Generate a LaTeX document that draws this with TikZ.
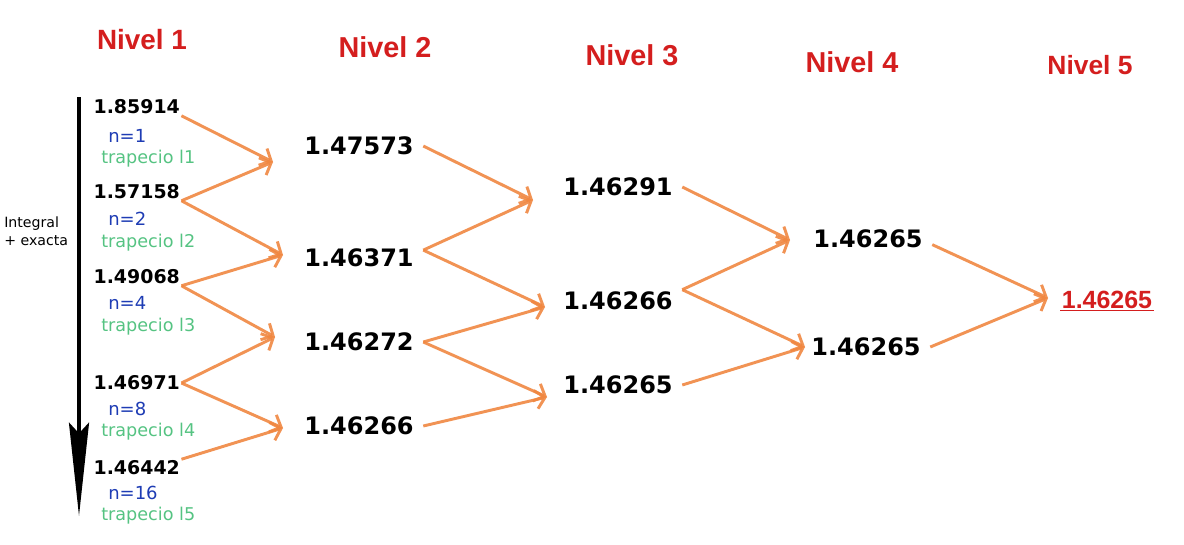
\documentclass[tikz,border=0pt]{standalone}
\usepackage{fontspec}
\setmainfont{DejaVu Sans}
\newfontfamily\arialfont{Liberation Sans}
\usetikzlibrary{arrows.meta}
\definecolor{nivelred}{RGB}{212,30,30}
\definecolor{nblue}{RGB}{30,60,180}
\definecolor{trapgreen}{RGB}{85,195,130}
\definecolor{flechaorange}{RGB}{240,135,65}
\tikzstyle{nivel} = [font=\arialfont\fontsize{21.6}{24}\selectfont\bfseries, text=nivelred]
\tikzstyle{val1} = [anchor=west, inner sep=1pt, font=\fontsize{14.2}{16}\selectfont\bfseries]
\tikzstyle{val} = [inner sep=7pt, font=\fontsize{18}{20}\selectfont\bfseries]
\tikzstyle{nlab} = [anchor=west, inner sep=0pt, font=\fontsize{13.5}{16}\selectfont, text=nblue]
\tikzstyle{trap} = [anchor=west, inner sep=0pt, font=\fontsize{13.2}{16}\selectfont, text=trapgreen]
\tikzstyle{flecha} = [draw=flechaorange, line width=2.2pt, opacity=0.9, -{Straight Barb[length=7pt,width=14pt]}]

\begin{document}
\begin{tikzpicture}[x=0.75pt, y=-0.75pt]

    \useasboundingbox (0, 0) rectangle (1184, 544);

    % titles
    \node(h1)[nivel, font=\arialfont\fontsize{20.9}{24}\selectfont\bfseries] at (142, 40) {Nivel 1};
    \node(h2)[nivel] at (385, 47) {Nivel 2};
    \node(h3)[nivel] at (632, 55) {Nivel 3};
    \node(h4)[nivel] at (852, 62) {Nivel 4};
    \node(h5)[nivel, font=\arialfont\fontsize{19.8}{24}\selectfont\bfseries] at (1090, 65) {Nivel 5};

    % black arrow
    \coordinate (arrtop) at (79, 97);
    \coordinate (arrbot) at (79, 516);
    \draw[line width=3pt, -{Stealth[length=70pt, width=15pt, inset=8pt]}] (arrtop) -- (arrbot);
    \node(exacta)[anchor=west, inner sep=0pt, align=left, font=\fontsize{10.6}{13.5}\selectfont] at (4, 231) {Integral\\ + exacta};

    % level 1
    \node(v11)[val1] at (92, 107) {1.85914};
    \node(n1)[nlab] at (108, 136) {n=1};
    \node(t1)[trap] at (101, 159) {trapecio l1};

    \node(v12)[val1] at (92, 192) {1.57158};
    \node(n2)[nlab] at (108, 219) {n=2};
    \node(t2)[trap] at (101, 243) {trapecio l2};

    \node(v13)[val1] at (92, 277) {1.49068};
    \node(n4)[nlab] at (108, 303) {n=4};
    \node(t3)[trap] at (101, 327) {trapecio l3};

    \node(v14)[val1] at (92, 383) {1.46971};
    \node(n8)[nlab] at (108, 409) {n=8};
    \node(t4)[trap] at (101, 432) {trapecio l4};

    \node(v15)[val1] at (92, 468) {1.46442};
    \node(n16)[nlab] at (108, 493) {n=16};
    \node(t5)[trap] at (101, 516) {trapecio l5};

    % level 2
    \node(v21)[val] at (359, 146) {1.47573};
    \node(v22)[val] at (359, 258) {1.46371};
    \node(v23)[val] at (359, 342) {1.46272};
    \node(v24)[val] at (359, 426) {1.46266};

    % level 3
    \node(v31)[val] at (618, 187) {1.46291};
    \node(v32)[val] at (618, 301) {1.46266};
    \node(v33)[val] at (618, 385) {1.46265};

    % level 4
    \node(v41)[val] at (868, 239) {1.46265};
    \node(v42)[val] at (866, 347) {1.46265};

    % level 5
    \node(v51)[inner sep=1pt, text=nivelred, font=\arialfont\fontsize{18.7}{20}\selectfont\bfseries] at (1107, 300) {1.46265};
    \draw[nivelred, line width=1.3pt] (v51.south west) -- (v51.south east);

    % arrow tips
    \coordinate (a21) at (273, 162);
    \coordinate (a22) at (283, 255);
    \coordinate (a23) at (275, 337);
    \coordinate (a24) at (283, 428);
    \coordinate (a31) at (533, 200);
    \coordinate (a32) at (545, 307);
    \coordinate (a33) at (547, 397);
    \coordinate (a41) at (790, 240);
    \coordinate (a42) at (805, 347);
    \coordinate (a51) at (1048, 298);

    \draw[flecha] (v11.south east) -- (a21);
    \draw[flecha] (v12.south east) -- (a21);
    \draw[flecha] (v12.south east) -- (a22);
    \draw[flecha] (v13.south east) -- (a22);
    \draw[flecha] (v13.south east) -- (a23);
    \draw[flecha] (v14.east) -- (a23);
    \draw[flecha] (v14.east) -- (a24);
    \draw[flecha] (v15.north east) -- (a24);

    \draw[flecha] (v21.east) -- (a31);
    \draw[flecha] (v22.7) -- (a31);
    \draw[flecha] (v22.7) -- (a32);
    \draw[flecha] (v23.east) -- (a32);
    \draw[flecha] (v23.east) -- (a33);
    \draw[flecha] (v24.east) -- (a33);

    \draw[flecha] (v31.east) -- (a41);
    \draw[flecha] (v32.10) -- (a41);
    \draw[flecha] (v32.10) -- (a42);
    \draw[flecha] (v33.east) -- (a42);

    \draw[flecha] (v41.-5) -- (a51);
    \draw[flecha] (v42.east) -- (a51);

\end{tikzpicture}
\end{document}
